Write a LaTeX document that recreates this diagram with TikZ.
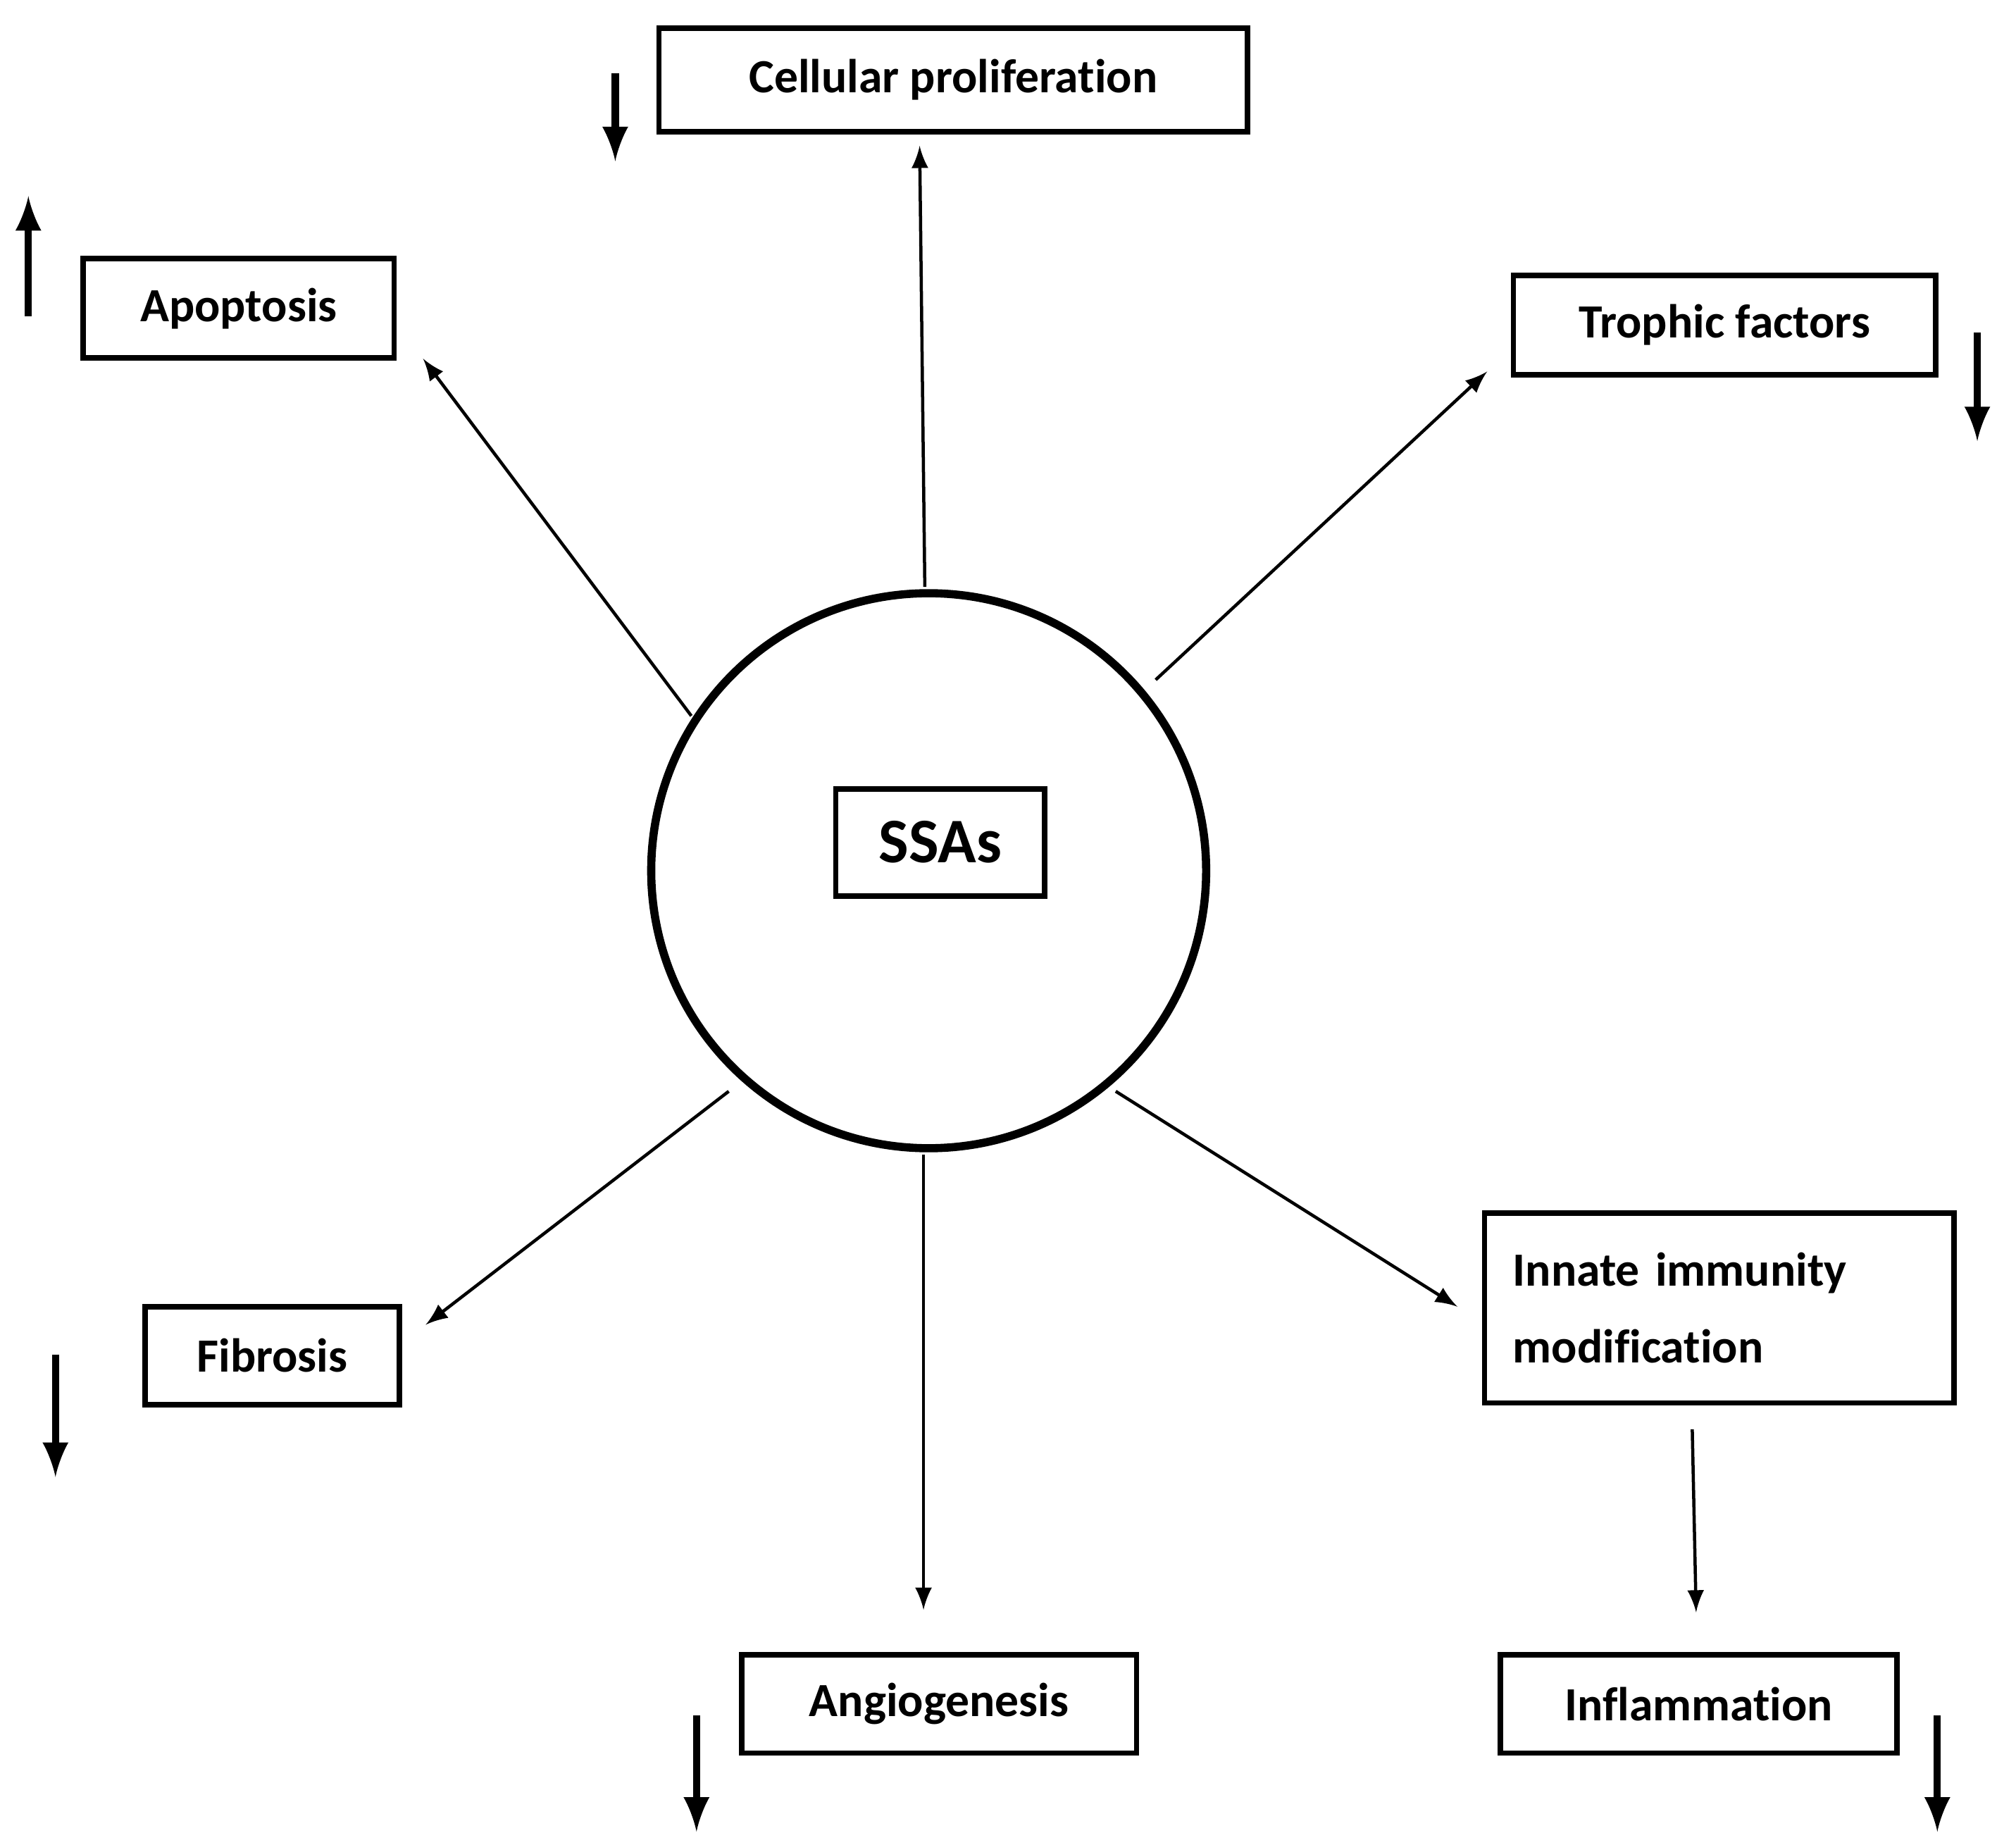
\documentclass[tikz,border=0pt]{standalone}
\usepackage{fontspec}
\setmainfont[Ligatures=NoCommon]{Carlito}
\begin{document}
\begin{tikzpicture}[x=0.01cm,y=-0.01cm,
  box/.style={draw,line width=1.2pt,inner sep=0pt,font=\bfseries\fontsize{10.5}{13}\selectfont},
  ar/.style={-latex,line width=0.7pt},
  big/.style={-latex,line width=1.6pt}]
\useasboundingbox (0,0) rectangle (1563,1430);
\node[draw,circle,line width=1.8pt,minimum size=4.3cm,inner sep=0pt] (c) at (720,675) {};
\node[box,minimum width=1.62cm,minimum height=0.83cm] (s) at (729,653) {\fontsize{14}{16}\selectfont SSAs};
\node[box,minimum width=4.56cm,minimum height=0.8cm] (cp) at (739,62) {Cellular proliferation};
\node[box,minimum width=2.41cm,minimum height=0.77cm] (ap) at (185,239) {Apoptosis};
\node[box,minimum width=3.27cm,minimum height=0.77cm] (tf) at (1337,252) {Trophic factors};
\node[box,minimum width=3.64cm,minimum height=1.47cm,align=left,text width=3.2cm] (im) at (1333,1014) {Innate immunity\\[4pt]modification};
\node[box,minimum width=1.97cm,minimum height=0.76cm] (fi) at (211,1051) {Fibrosis};
\node[box,minimum width=3.06cm,minimum height=0.76cm] (an) at (728,1321) {Angiogenesis};
\node[box,minimum width=3.07cm,minimum height=0.76cm] (in) at (1317,1321) {Inflammation};
\coordinate (e1) at (713,113); \coordinate (e2) at (328,278); \coordinate (e3) at (1153,288);
\coordinate (e4) at (330,1027); \coordinate (e5) at (716,1248); \coordinate (e6) at (1130,1013);
\coordinate (e7) at (1315,1250); \coordinate (i0) at (1312,1108);
\coordinate (s1) at (717,455); \coordinate (s2) at (536,555); \coordinate (s3) at (896,527);
\coordinate (s4) at (565,846); \coordinate (s5) at (716,895); \coordinate (s6) at (865,846);
\draw[ar] (s1) -- (e1);
\draw[ar] (s2) -- (e2);
\draw[ar] (s3) -- (e3);
\draw[ar] (s4) -- (e4);
\draw[ar] (s5) -- (e5);
\draw[ar] (s6) -- (e6);
\draw[ar] (i0) -- (e7);
\coordinate (a1) at (477,57); \coordinate (b1) at (477,125);
\coordinate (a2) at (22,245); \coordinate (b2) at (22,152);
\coordinate (a3) at (1533,258); \coordinate (b3) at (1533,342);
\coordinate (a4) at (43,1050); \coordinate (b4) at (43,1145);
\coordinate (a5) at (540,1330); \coordinate (b5) at (540,1420);
\coordinate (a6) at (1502,1330); \coordinate (b6) at (1502,1420);
\foreach \i in {1,...,6} \draw[big] (a\i) -- (b\i);
\end{tikzpicture}
\end{document}
